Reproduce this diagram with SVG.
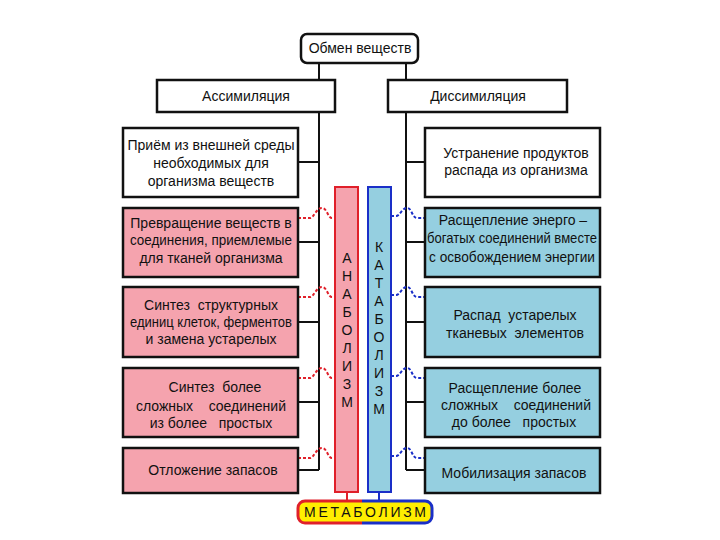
<svg xmlns="http://www.w3.org/2000/svg" width="720" height="540" viewBox="0 0 720 540">
<defs>
<style>
text{font-family:"Liberation Sans",Arial,sans-serif;font-size:14px;fill:#111;text-anchor:middle}
.box{stroke:#111;stroke-width:2.5}
.w{fill:#fff}
.p{fill:#f5a3ae}
.b{fill:#95cfe0}
.ln{stroke:#111;stroke-width:2;fill:none}
.rd{stroke:#e0202a;stroke-width:2;fill:none;stroke-dasharray:3 2}
.bd{stroke:#1a2fc8;stroke-width:2;fill:none;stroke-dasharray:3 2}
.vl{font-size:14px}
</style>
<linearGradient id="mg" gradientUnits="userSpaceOnUse" x1="297" y1="0" x2="432" y2="0">
<stop offset="0.48" stop-color="#e0202a"/>
<stop offset="0.48" stop-color="#1a2fc8"/>
</linearGradient>
</defs>
<rect width="720" height="540" fill="#fff"/>

<g id="connectors">
<path class="ln" d="M319,63V80M406,63V80"/>
<path class="ln" d="M319,112V470M406,112V470"/>
<path class="ln" d="M298,162H319M298,242H319M298,322H319M298,402H319M298,470H319"/>
<path class="ln" d="M406,162H425M406,242H425M406,322H425M406,402H425M406,470H425"/>
<path class="rd" d="M298,218H310C314,218 316,208 322,208C327,208 328,218 332,218H335"/>
<path class="rd" d="M298,297H310C314,297 316,287 322,287C327,287 328,297 332,297H335"/>
<path class="rd" d="M298,378H310C314,378 316,368 322,368C327,368 328,378 332,378H335"/>
<path class="rd" d="M298,458H310C314,458 316,448 322,448C327,448 328,458 332,458H335"/>
<path class="bd" d="M391,216H396C400,216 402,208 407,208C412,208 412,218 417,218H425"/>
<path class="bd" d="M391,295H396C400,295 402,287 407,287C412,287 412,297 417,297H425"/>
<path class="bd" d="M391,376H396C400,376 402,368 407,368C412,368 412,378 417,378H425"/>
<path class="bd" d="M391,456H396C400,456 402,448 407,448C412,448 412,458 417,458H425"/>
<path d="M347,492V501" stroke="#e0202a" stroke-width="2"/>
<path d="M379,492V501" stroke="#1a2fc8" stroke-width="2"/>
</g>

<g id="obmen">
<rect class="box w" x="301" y="34" width="117" height="29" rx="6"/>
<text x="360" y="53">Обмен  веществ</text>
</g>
<g id="assim">
<rect class="box w" x="157" y="80" width="178" height="32"/>
<text x="246" y="101">Ассимиляция</text>
</g>
<g id="dissim">
<rect class="box w" x="388" y="80" width="179" height="32"/>
<text x="478" y="101">Диссимиляция</text>
</g>

<g id="l1">
<rect class="box w" x="123" y="128" width="175" height="69"/>
<text x="211" y="150">Приём из внешней среды</text>
<text x="211" y="168">необходимых для</text>
<text x="211" y="186">организма  веществ</text>
</g>
<g id="l2">
<rect class="box p" x="123" y="208" width="175" height="69"/>
<text x="211" y="228">Превращение веществ в</text>
<text x="211" y="245" textLength="162" lengthAdjust="spacingAndGlyphs">соединения, приемлемые</text>
<text x="211" y="263">для тканей организма</text>
</g>
<g id="l3">
<rect class="box p" x="123" y="287" width="175" height="70"/>
<text x="211" y="310" xml:space="preserve">Синтез  структурных</text>
<text x="211" y="327" textLength="162" lengthAdjust="spacingAndGlyphs">единиц клеток, ферментов</text>
<text x="211" y="344">и замена устарелых</text>
</g>
<g id="l4">
<rect class="box p" x="123" y="368" width="175" height="69"/>
<text x="215" y="392" xml:space="preserve">Синтез  более</text>
<text x="211" y="411" xml:space="preserve">сложных    соединений</text>
<text x="211" y="428" xml:space="preserve">из более   простых</text>
</g>
<g id="l5">
<rect class="box p" x="123" y="448" width="175" height="45"/>
<text x="213" y="475">Отложение запасов</text>
</g>

<g id="r1">
<rect class="box w" x="425" y="128" width="175" height="69"/>
<text x="516" y="158">Устранение продуктов</text>
<text x="516" y="175">распада из организма</text>
</g>
<g id="r2">
<rect class="box b" x="425" y="208" width="175" height="69"/>
<text x="513" y="225">Расщепление энерго –</text>
<text x="512" y="243" textLength="170" lengthAdjust="spacingAndGlyphs">богатых соединений вместе</text>
<text x="512" y="262" textLength="166" lengthAdjust="spacingAndGlyphs">с освобождением энергии</text>
</g>
<g id="r3">
<rect class="box b" x="425" y="287" width="175" height="70"/>
<text x="515" y="320" xml:space="preserve">Распад  устарелых</text>
<text x="515" y="338" xml:space="preserve">тканевых  элементов</text>
</g>
<g id="r4">
<rect class="box b" x="425" y="368" width="175" height="69"/>
<text x="515" y="393">Расщепление более</text>
<text x="516" y="410" xml:space="preserve">сложных    соединений</text>
<text x="514" y="427" xml:space="preserve">до более   простых</text>
</g>
<g id="r5">
<rect class="box b" x="425" y="448" width="175" height="45"/>
<text x="514" y="478">Мобилизация запасов</text>
</g>

<g id="anabolism">
<rect x="335" y="187" width="23" height="305" fill="#f5a3ae" stroke="#e0202a" stroke-width="2"/>
<text class="vl" x="347" y="263">А</text>
<text class="vl" x="347" y="281">Н</text>
<text class="vl" x="347" y="299">А</text>
<text class="vl" x="347" y="317">Б</text>
<text class="vl" x="347" y="335">О</text>
<text class="vl" x="347" y="353">Л</text>
<text class="vl" x="347" y="371">И</text>
<text class="vl" x="347" y="389">З</text>
<text class="vl" x="347" y="407">М</text>
</g>
<g id="katabolism">
<rect x="368" y="187" width="23" height="305" fill="#95cfe0" stroke="#1a2fc8" stroke-width="2"/>
<text class="vl" x="379" y="252">К</text>
<text class="vl" x="379" y="270">А</text>
<text class="vl" x="379" y="288">Т</text>
<text class="vl" x="379" y="306">А</text>
<text class="vl" x="379" y="324">Б</text>
<text class="vl" x="379" y="342">О</text>
<text class="vl" x="379" y="360">Л</text>
<text class="vl" x="379" y="378">И</text>
<text class="vl" x="379" y="396">З</text>
<text class="vl" x="379" y="414">М</text>
</g>
<g id="metabolism">
<rect x="298" y="501" width="134" height="22" rx="7" fill="#ffee00" stroke="url(#mg)" stroke-width="3"/>
<text x="365" y="517" textLength="122" lengthAdjust="spacing">МЕТАБОЛИЗМ</text>
</g>
</svg>
